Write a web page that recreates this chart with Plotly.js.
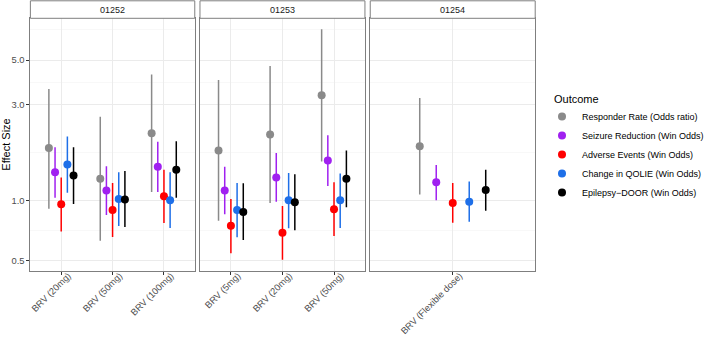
<!DOCTYPE html>
<html>
<head>
<meta charset="utf-8">
<script src="https://cdn.plot.ly/plotly-3.0.1.min.js"></script>
<style>
  html, body { margin: 0; padding: 0; background: #ffffff; }
  #chart { width: 709px; height: 337px; }
</style>
</head>
<body>
<div id="chart"></div>
<script>
// Studies (facets) and the treatment arms within each study
const studies = ['01252', '01253', '01254'];
const armLabels = [
  ['BRV (20mg)', 'BRV (50mg)', 'BRV (100mg)'],
  ['BRV (5mg)', 'BRV (20mg)', 'BRV (50mg)'],
  ['BRV (Flexible dose)']
];
// Each arm row: which study it belongs to and its position inside that study
const armStudy = [0, 0, 0, 1, 1, 1, 2];
const armIndex = [1, 2, 3, 1, 2, 3, 1];

const legendTitle = 'Outcome';
const outcomes = [
  'Responder Rate (Odds ratio)',
  'Seizure Reduction (Win Odds)',
  'Adverse Events (Win Odds)',
  'Change in QOLIE (Win Odds)',
  'Epilepsy\u2212DOOR (Win Odds)'
];
const outcomeColors = ['#8a8a8a', '#a020f0', '#ff0000', '#1e6fe8', '#000000'];

// Effect sizes with 95% interval, one value per arm row
const responderEst = [1.82, 1.28, 2.16, 1.77, 2.13, 3.34, 1.86];
const responderLo  = [0.908, 0.629, 1.10, 0.79, 0.97, 1.56, 1.07];
const responderHi  = [3.59, 2.61, 4.24, 3.98, 4.67, 7.11, 3.23];

const seizureEst = [1.38, 1.12, 1.47, 1.12, 1.30, 1.58, 1.23];
const seizureLo  = [1.03, 0.845, 1.10, 0.852, 0.984, 1.18, 1.00];
const seizureHi  = [1.84, 1.48, 1.96, 1.47, 1.72, 2.11, 1.50];

const adverseEst = [0.955, 0.895, 1.047, 0.747, 0.69, 0.902, 0.97];
const adverseLo  = [0.70, 0.656, 0.77, 0.545, 0.506, 0.664, 0.773];
const adverseHi  = [1.30, 1.22, 1.42, 1.015, 0.937, 1.23, 1.22];

const qolieEst = [1.51, 1.015, 1.00, 0.895, 1.00, 1.00, 0.984];
const qolieLo  = [1.09, 0.745, 0.728, 0.654, 0.725, 0.728, 0.782];
const qolieHi  = [2.08, 1.38, 1.38, 1.22, 1.37, 1.36, 1.24];

const doorEst = [1.33, 1.01, 1.42, 0.874, 0.977, 1.28, 1.126];
const doorLo  = [0.96, 0.736, 1.03, 0.634, 0.709, 0.923, 0.888];
const doorHi  = [1.84, 1.40, 1.97, 1.215, 1.35, 1.77, 1.42];

const estimates = [responderEst, seizureEst, adverseEst, qolieEst, doorEst];
const lowers = [responderLo, seizureLo, adverseLo, qolieLo, doorLo];
const uppers = [responderHi, seizureHi, adverseHi, qolieHi, doorHi];

// Y-axis breaks and the reference value of no effect
const yTicks = [0.5, 1, 3, 5];
const yTickText = ['0.5', '1.0', '3.0', '5.0'];
const yMinor = [Math.sqrt(0.5), Math.sqrt(3), Math.sqrt(15), Math.sqrt(50)];
const refValue = 1;

// Layout geometry (figure is 709 x 337 px)
const W = 709, H = 337;
const panelX = [[31, 198.7], [204, 372.3], [377.7, 546]];
const panelTop = 18.3, panelBottom = 270.7, stripTop = 0.8;
const yRange = [Math.log10(0.446), Math.log10(8.07)];
const dodge = 0.6;

const FONT = '"Liberation Sans", Arial, Helvetica, sans-serif';
const traces = [];
outcomes.forEach((name, k) => {
  const offset = (k - (outcomes.length - 1) / 2) * dodge / outcomes.length;
  studies.forEach((s, si) => {
    const rows = armStudy.map((v, i) => v === si ? i : -1).filter(i => i >= 0);
    const axisSuffix = si === 0 ? '' : String(si + 1);
    traces.push({
      type: 'scatter',
      mode: 'markers',
      name: name,
      legendgroup: name,
      showlegend: si === 0,
      xaxis: 'x' + axisSuffix,
      yaxis: 'y' + axisSuffix,
      x: rows.map(i => armIndex[i] + offset),
      y: rows.map(i => estimates[k][i]),
      error_y: {
        type: 'data',
        symmetric: false,
        array: rows.map(i => uppers[k][i] - estimates[k][i]),
        arrayminus: rows.map(i => estimates[k][i] - lowers[k][i]),
        width: 0,
        thickness: 1.5,
        color: outcomeColors[k]
      },
      marker: { color: outcomeColors[k], size: 8, line: { width: 0 } },
      hoverinfo: 'x+y'
    });
  });
});

const layout = {
  width: W,
  height: H,
  margin: { l: 0, r: 0, t: 0, b: 0 },
  paper_bgcolor: '#ffffff',
  plot_bgcolor: '#ffffff',
  font: { family: FONT, size: 9, color: '#4d4d4d' },
  showlegend: true,
  legend: {
    x: 553 / W, y: 1 - 102 / H, xanchor: 'left', yanchor: 'top',
    font: { family: FONT, size: 9, color: '#000000' },
    bgcolor: 'rgba(0,0,0,0)',
    tracegroupgap: 0
  },
  shapes: [],
  annotations: [{
    xref: 'paper', yref: 'paper', x: 563 / W, y: 1 - 99 / H,
    xanchor: 'left', yanchor: 'middle', showarrow: false,
    text: legendTitle, font: { family: FONT, size: 11, color: '#000000' }
  }]
};

studies.forEach((s, si) => {
  const suffix = si === 0 ? '' : String(si + 1);
  const nArms = armLabels[si].length;
  layout['xaxis' + suffix] = {
    domain: [panelX[si][0] / W, panelX[si][1] / W],
    anchor: 'y' + suffix,
    range: [0.4, nArms + 0.6],
    tickmode: 'array',
    tickvals: armLabels[si].map((_, j) => j + 1),
    ticktext: armLabels[si],
    tickangle: -45,
    ticklabelshift: 7,
    ticklabelstandoff: -8,
    ticks: 'outside', ticklen: 3, tickcolor: '#333333', tickwidth: 1,
    tickfont: { family: FONT, size: 9.3, color: '#4d4d4d' },
    showgrid: true, gridcolor: '#ebebeb', gridwidth: 1,
    zeroline: false,
    showline: true, mirror: true, linecolor: '#7f7f7f', linewidth: 1,
    automargin: false, fixedrange: true
  };
  layout['yaxis' + suffix] = {
    domain: [1 - panelBottom / H, 1 - panelTop / H],
    anchor: 'x' + suffix,
    type: 'log',
    range: yRange,
    tickmode: 'array',
    tickvals: yTicks,
    ticktext: yTickText,
    showticklabels: si === 0,
    ticks: si === 0 ? 'outside' : '',
    ticklen: 3, tickcolor: '#333333', tickwidth: 1,
    tickfont: { family: FONT, size: 9.4, color: '#4d4d4d' },
    showgrid: true, gridcolor: '#ebebeb', gridwidth: 1,
    minor: { tickmode: 'array', tickvals: yMinor, showgrid: true, gridcolor: '#f3f3f3', gridwidth: 0.6, ticks: '' },
    zeroline: false,
    showline: true, mirror: true, linecolor: '#7f7f7f', linewidth: 1,
    automargin: false, fixedrange: true,
    title: si === 0 ? { text: 'Effect Size', font: { family: FONT, size: 11, color: '#000000' }, standoff: 6 } : undefined
  };

  // reference line at "no effect"
  layout.shapes.push({
    type: 'line', xref: 'x' + suffix + ' domain', x0: 0, x1: 1,
    yref: 'y' + suffix, y0: Math.log10(refValue), y1: Math.log10(refValue),
    line: { color: '#000000', width: 1 }, layer: 'below'
  });
  // facet strip
  layout.shapes.push({
    type: 'rect', xref: 'paper', yref: 'paper',
    x0: panelX[si][0] / W, x1: panelX[si][1] / W,
    y0: 1 - panelTop / H, y1: 1 - stripTop / H,
    fillcolor: '#ffffff', line: { color: '#7f7f7f', width: 1 }
  });
  layout.annotations.push({
    xref: 'paper', yref: 'paper',
    x: (panelX[si][0] + panelX[si][1]) / 2 / W,
    y: 1 - (panelTop + stripTop) / 2 / H,
    text: s, showarrow: false,
    font: { family: FONT, size: 9, color: '#1a1a1a' },
    xanchor: 'center', yanchor: 'middle'
  });
});

Plotly.newPlot('chart', traces, layout, { displayModeBar: false, staticPlot: true });
</script>
</body>
</html>
